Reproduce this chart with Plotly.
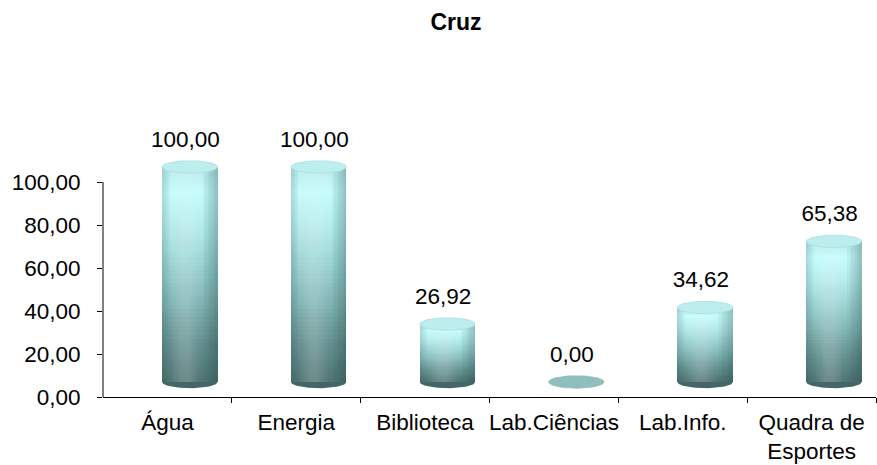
import numpy as np
import plotly.graph_objects as go

categories = ["Água", "Energia", "Biblioteca", "Lab.Ciências", "Lab.Info.", "Quadra de<br>Esportes"]
values = [100.00, 100.00, 26.92, 0.00, 34.62, 65.38]
labels = [f"{v:.2f}".replace(".", ",") for v in values]
yticks = [0, 20, 40, 60, 80, 100]

FLOOR = 7.0       # 3D floor lift (axis units)
OFF = 0.174       # perspective shift of cylinders (category units)
W = 0.43          # cylinder width
RY = 2.9          # ellipse half-height (axis units)
FONT = "Liberation Sans, Arial, sans-serif"
FS = 22.5

x = np.arange(len(categories))
xc = x + OFF

def lerp(c1, c2, t):
    return tuple(int(round(a + (b - a) * t)) for a, b in zip(c1, c2))

stops = [(0.0, (80, 116, 116)), (0.2, (104, 148, 148)), (0.45, (142, 196, 196)),
         (0.7, (178, 234, 234)), (0.88, (198, 252, 252)), (1.0, (184, 236, 236))]

def grad(h):
    for (h1, c1), (h2, c2) in zip(stops[:-1], stops[1:]):
        if h1 <= h <= h2:
            return "rgb(%d,%d,%d)" % lerp(c1, c2, (h - h1) / (h2 - h1))
    return "rgb(%d,%d,%d)" % stops[-1][1]

fig = go.Figure()

# bottom half-ellipses (dark)
t = np.linspace(np.pi, 2 * np.pi, 40)
for xi, v in zip(xc, values):
    if v > 0:
        ex = xi + (W / 2) * np.cos(t)
        ey = FLOOR + RY * np.sin(t)
        fig.add_trace(go.Scatter(x=ex, y=ey, fill="toself", mode="lines",
                                 line=dict(width=0, color="rgb(70,102,102)"),
                                 fillcolor="rgb(70,102,102)", hoverinfo="skip", showlegend=False))

# cylinder bodies with vertical gradient (overlayed bars)
N = 50
for k in range(N):
    frac = 1 - k / N
    h = 1 - (k + 0.5) / N
    fig.add_trace(go.Bar(x=xc, y=[v * frac for v in values], base=FLOOR, width=W,
                         marker=dict(color=grad(h), line=dict(width=0)),
                         hoverinfo="skip", showlegend=False))

# horizontal shading: darker rims (strips at the edges), soft highlight left of centre
for i in range(6):
    wr = W * (0.04 + 0.045 * i)
    fig.add_trace(go.Bar(x=xc + W / 2 - wr / 2, y=values, base=FLOOR, width=wr,
                         marker=dict(color="rgba(20,50,50,0.05)", line=dict(width=0)),
                         hoverinfo="skip", showlegend=False))
for i in range(4):
    wl = W * (0.03 + 0.035 * i)
    fig.add_trace(go.Bar(x=xc - W / 2 + wl / 2, y=values, base=FLOOR, width=wl,
                         marker=dict(color="rgba(20,50,50,0.04)", line=dict(width=0)),
                         hoverinfo="skip", showlegend=False))
for i in range(6):
    wi = W * (0.5 - i * 0.07)
    fig.add_trace(go.Bar(x=xc - W * 0.08, y=values, base=FLOOR, width=wi,
                         marker=dict(color="rgba(255,255,255,0.03)", line=dict(width=0)),
                         hoverinfo="skip", showlegend=False))

# top ellipses
t2 = np.linspace(0, 2 * np.pi, 60)
for xi, v in zip(xc, values):
    ex = xi + (W / 2) * np.cos(t2)
    ey = FLOOR + v + RY * np.sin(t2)
    if v == 0:
        col, lc = "rgb(143,190,190)", "rgb(143,190,190)"
    else:
        col, lc = "rgb(188,238,238)", "rgb(172,222,222)"
    fig.add_trace(go.Scatter(x=ex, y=ey, fill="toself", mode="lines",
                             line=dict(width=0.8, color=lc),
                             fillcolor=col, hoverinfo="skip", showlegend=False))

# data labels
fig.add_trace(go.Scatter(x=x + 0.14, y=[v + 19 for v in values], mode="text", text=labels,
                         textfont=dict(family=FONT, size=FS, color="black"),
                         textposition="middle center", cliponaxis=False,
                         hoverinfo="skip", showlegend=False))

fig.update_layout(
    width=877, height=465,
    margin=dict(l=103, r=1, t=139, b=68),
    paper_bgcolor="white", plot_bgcolor="white",
    barmode="overlay", bargap=0,
    showlegend=False,
    font=dict(family=FONT, size=FS, color="black"),
    title=dict(text="<b>Cruz</b>", x=0.52, xanchor="center", y=0.953, yanchor="middle",
               font=dict(family=FONT, size=23, color="black")),
    xaxis=dict(range=[-0.5, 5.5], tickmode="array", tickvals=list(x), ticktext=categories,
               showline=True, linecolor="black", linewidth=1, ticks="", showgrid=False,
               zeroline=False, ticklabelstandoff=5,
               minor=dict(tickmode="array", tickvals=[0.5, 1.5, 2.5, 3.5, 4.5, 5.5],
                          ticks="outside", ticklen=5, tickcolor="black", showgrid=False)),
    yaxis=dict(range=[0, 120], tickmode="array", tickvals=yticks,
               ticktext=[f"{v:.2f}".replace(".", ",") for v in yticks],
               ticks="outside", ticklen=5, tickcolor="black", showline=False,
               showgrid=False, zeroline=False, ticklabelstandoff=12),
    shapes=[dict(type="line", xref="paper", yref="y", x0=0, x1=0, y0=0, y1=100,
                 line=dict(color="black", width=1))],
)

fig.write_html("out.html", config={"displayModeBar": False},
               post_script="document.body.style.margin='0px';")
